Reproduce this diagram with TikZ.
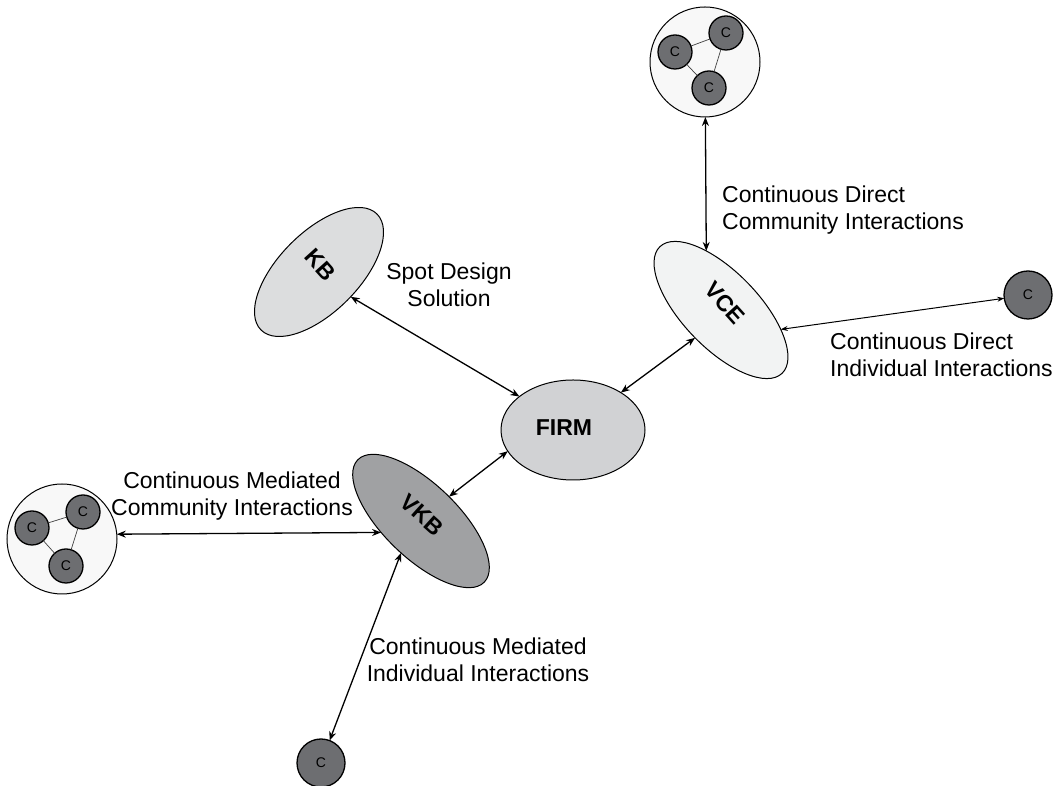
\documentclass[tikz,border=0pt]{standalone}
\usepackage{fontspec}
\setmainfont{Liberation Sans}
\usetikzlibrary{shapes.geometric,arrows.meta}
\definecolor{firmfill}{HTML}{D1D2D4}
\definecolor{kbfill}{HTML}{DCDDDE}
\definecolor{vcefill}{HTML}{F2F3F3}
\definecolor{vkbfill}{HTML}{A0A1A3}
\definecolor{cfill}{HTML}{6D6E71}
\definecolor{clfill}{HTML}{F8F8F8}
\begin{document}
\begin{tikzpicture}[x=1pt,y=1pt,
  oval/.style={ellipse, draw=black, line width=1pt, inner sep=0pt, outer sep=0pt},
  ovaltext/.style={font=\fontsize{23}{27}\selectfont\bfseries, inner sep=0pt},
  cnode/.style={circle, draw=black, line width=1.3pt, fill=cfill, minimum size=34pt, inner sep=0pt, outer sep=0pt, font=\fontsize{14}{16}\selectfont},
  cbig/.style={cnode, minimum size=48pt},
  cluster/.style={circle, draw=black, line width=1pt, fill=clfill, minimum size=110pt, inner sep=0pt, outer sep=0pt},
  tie/.style={line width=0.7pt, draw=black!75},
  link/.style={{Stealth[length=9pt,width=7pt]}-{Stealth[length=9pt,width=7pt]}, line width=1.3pt},
  thinlink/.style={{Stealth[length=7pt,width=5pt]}-{Stealth[length=7pt,width=5pt]}, line width=1pt},
  lbl/.style={font=\fontsize{23}{27}\selectfont, inner sep=0pt}
]
\useasboundingbox (0,0) rectangle (1060,786);

% main ovals
\node[oval, fill=firmfill, minimum width=144pt, minimum height=100pt] (firm) at (573,356) {};
\node[ovaltext] (firml) at (564,358) {FIRM};
\node[oval, fill=kbfill, minimum width=164pt, minimum height=80pt, rotate=45] (kb) at (319,514) {};
\node[ovaltext, rotate=-48] (kbl) at (320,521) {KB};
\node[oval, fill=vcefill, minimum width=176pt, minimum height=76pt, rotate=-46] (vce) at (721,476) {};
\node[ovaltext, rotate=-48] (vcel) at (725,483) {VCE};
\node[oval, fill=vkbfill, minimum width=176pt, minimum height=74pt, rotate=-44] (vkb) at (421,265) {};
\node[ovaltext, rotate=-42] (vkbl) at (422,271) {VKB};

% top cluster
\node[cluster] (tc) at (705,724) {};
\node[cnode] (tc1) at (675,734) {C};
\node[cnode] (tc2) at (726,753) {C};
\node[cnode] (tc3) at (709,698) {C};
\draw[tie] (tc1) -- (tc2);
\draw[tie] (tc2) -- (tc3);
\draw[tie] (tc1) -- (tc3);

% left cluster
\node[cluster] (lc) at (62,247) {};
\node[cnode] (lc1) at (32,258) {C};
\node[cnode] (lc2) at (83,274) {C};
\node[cnode] (lc3) at (66,220) {C};
\draw[tie] (lc1) -- (lc2);
\draw[tie] (lc2) -- (lc3);
\draw[tie] (lc1) -- (lc3);

% single customers
\node[cbig] (cr) at (1028,491) {C};
\node[cbig] (cb) at (321,23) {C};

% connectors
\draw[link] (kb.277) -- (firm.148);
\draw[link] (firm.38) -- (vce.273);
\draw[link] (firm.198) -- (vkb.85);
\draw[link] (tc) -- (vce.150);
\draw[thinlink] (vce.28) -- (cr);
\draw[link] (lc.5) -- (vkb.240);
\draw[link] (vkb.282) -- (cb);

% labels
\node[lbl, align=left, anchor=west] (t1) at (722,575.5) {Continuous Direct\\Community Interactions};
\node[lbl, align=center] (t2) at (449,501) {Spot Design\\Solution};
\node[lbl, align=left, anchor=west] (t3) at (830,431.5) {Continuous Direct\\Individual Interactions};
\node[lbl, align=center] (t4) at (232,290) {Continuous Mediated\\Community Interactions};
\node[lbl, align=center] (t5) at (478,126) {Continuous Mediated\\Individual Interactions};
\end{tikzpicture}
\end{document}
